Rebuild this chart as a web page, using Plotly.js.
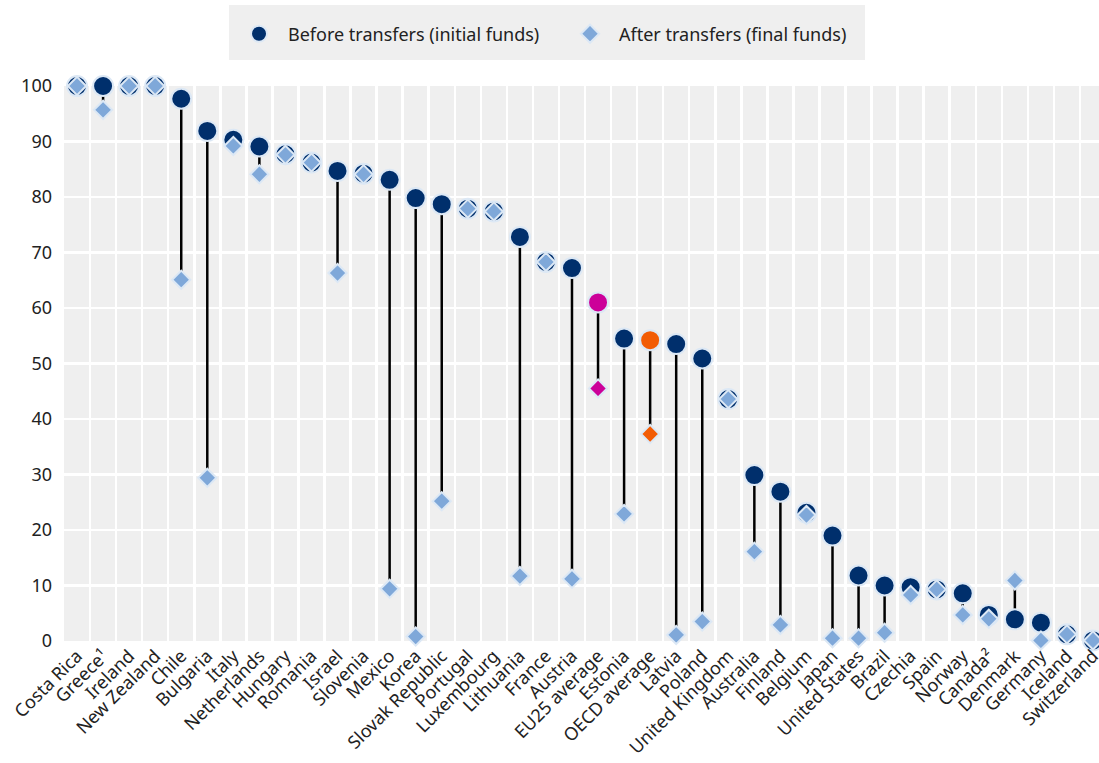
<!DOCTYPE html>
<html>
<head>
<meta charset="utf-8">
<script src="https://cdn.plot.ly/plotly-3.0.1.min.js"></script>
<style>html,body{margin:0;padding:0;background:#fff;}#chart{width:1099px;height:763px;}</style>
</head>
<body>
<div id="chart"></div>
<script>
// ---- Data ----
const categories = [
  "Costa Rica", "Greece¹", "Ireland", "New Zealand", "Chile", "Bulgaria", "Italy", "Netherlands",
  "Hungary", "Romania", "Israel", "Slovenia", "Mexico", "Korea", "Slovak Republic", "Portugal",
  "Luxembourg", "Lithuania", "France", "Austria", "EU25 average", "Estonia", "OECD average", "Latvia",
  "Poland", "United Kingdom", "Australia", "Finland", "Belgium", "Japan", "United States", "Brazil",
  "Czechia", "Spain", "Norway", "Canada²", "Denmark", "Germany", "Iceland", "Switzerland"
];
const beforeTransfers = [
  100, 100, 100, 100, 97.7, 91.9, 90.3, 89.1,
  87.7, 86.2, 84.7, 84.2, 83.1, 79.8, 78.7, 77.9,
  77.4, 72.8, 68.3, 67.2, 61.0, 54.5, 54.2, 53.5,
  50.9, 43.6, 29.9, 26.9, 23.1, 19.0, 11.8, 10.0,
  9.7, 9.3, 8.6, 4.7, 3.9, 3.3, 1.2, 0.1
];
const afterTransfers = [
  100, 95.7, 100, 100, 65.1, 29.4, 89.2, 84.1,
  87.6, 86.2, 66.3, 84.1, 9.4, 0.8, 25.2, 77.9,
  77.4, 11.7, 68.3, 11.2, 45.5, 22.9, 37.3, 1.1,
  3.5, 43.6, 16.1, 2.9, 22.7, 0.5, 0.5, 1.5,
  8.3, 9.3, 4.7, 4.0, 10.9, 0.1, 1.2, 0.1
];
const yTicks = [0, 10, 20, 30, 40, 50, 60, 70, 80, 90, 100];
const seriesNames = ["Before transfers (initial funds)", "After transfers (final funds)"];

// ---- Styles ----
const navy = "#002F6C", lightBlue = "#7FA8D9", outline = "#DCE8F5";
const highlight = {"EU25 average": "#CC0099", "OECD average": "#F25C05"};
const beforeColors = categories.map(c => highlight[c] || navy);
const afterColors = categories.map(c => highlight[c] || lightBlue);

// connector segments built from the data
const segX = [], segY = [];
categories.forEach((c, i) => {
  segX.push(c, c, null);
  segY.push(beforeTransfers[i], afterTransfers[i], null);
});

const traces = [
  {type: "scatter", mode: "lines", x: segX, y: segY, line: {color: "#000", width: 2.5},
   hoverinfo: "skip", showlegend: false, cliponaxis: false},
  {type: "scatter", mode: "markers", name: seriesNames[0], x: categories, y: beforeTransfers,
   marker: {symbol: "circle", size: 20, color: beforeColors, line: {color: outline, width: 2}},
   cliponaxis: false},
  {type: "scatter", mode: "markers", name: seriesNames[1], x: categories, y: afterTransfers,
   marker: {symbol: "diamond", size: 14, color: afterColors, line: {color: outline, width: 2}},
   cliponaxis: false}
];

const layout = {
  width: 1099, height: 763,
  margin: {l: 64, r: 0, t: 86, b: 122, pad: 0},
  paper_bgcolor: "#ffffff", plot_bgcolor: "#EFEFEF",
  font: {family: "Noto Sans, Open Sans, sans-serif", color: "#222222", size: 18},
  xaxis: {type: "category", range: [-0.5, 39.23], tickson: "boundaries", showgrid: true,
          gridcolor: "#ffffff", gridwidth: 2.5, tickangle: -45, tickfont: {size: 18, color: "#222"},
          ticks: "", showline: false, zeroline: false},
  yaxis: {range: [0, 100], tickvals: yTicks, ticktext: yTicks.map(String), showgrid: true,
          gridcolor: "#ffffff", gridwidth: 2.5, zeroline: false, showline: false, ticks: "",
          tickfont: {size: 18, color: "#222"}, ticklabelstandoff: 11},
  showlegend: true,
  legend: {orientation: "h", x: 0.1604, xanchor: "left", y: 1.0937, yanchor: "middle",
           itemwidth: 48, entrywidth: 268, entrywidthmode: "pixels",
           bgcolor: "rgba(0,0,0,0)", font: {size: 18, color: "#222"}, traceorder: "normal"},
  shapes: [{type: "rect", xref: "paper", yref: "paper", x0: 0.1594, x1: 0.7739, y0: 1.0468, y1: 1.1459,
            fillcolor: "#EFEFEF", line: {width: 0}, layer: "below"}]
};

Plotly.newPlot("chart", traces, layout, {displayModeBar: false, staticPlot: true});
</script>
</body>
</html>
